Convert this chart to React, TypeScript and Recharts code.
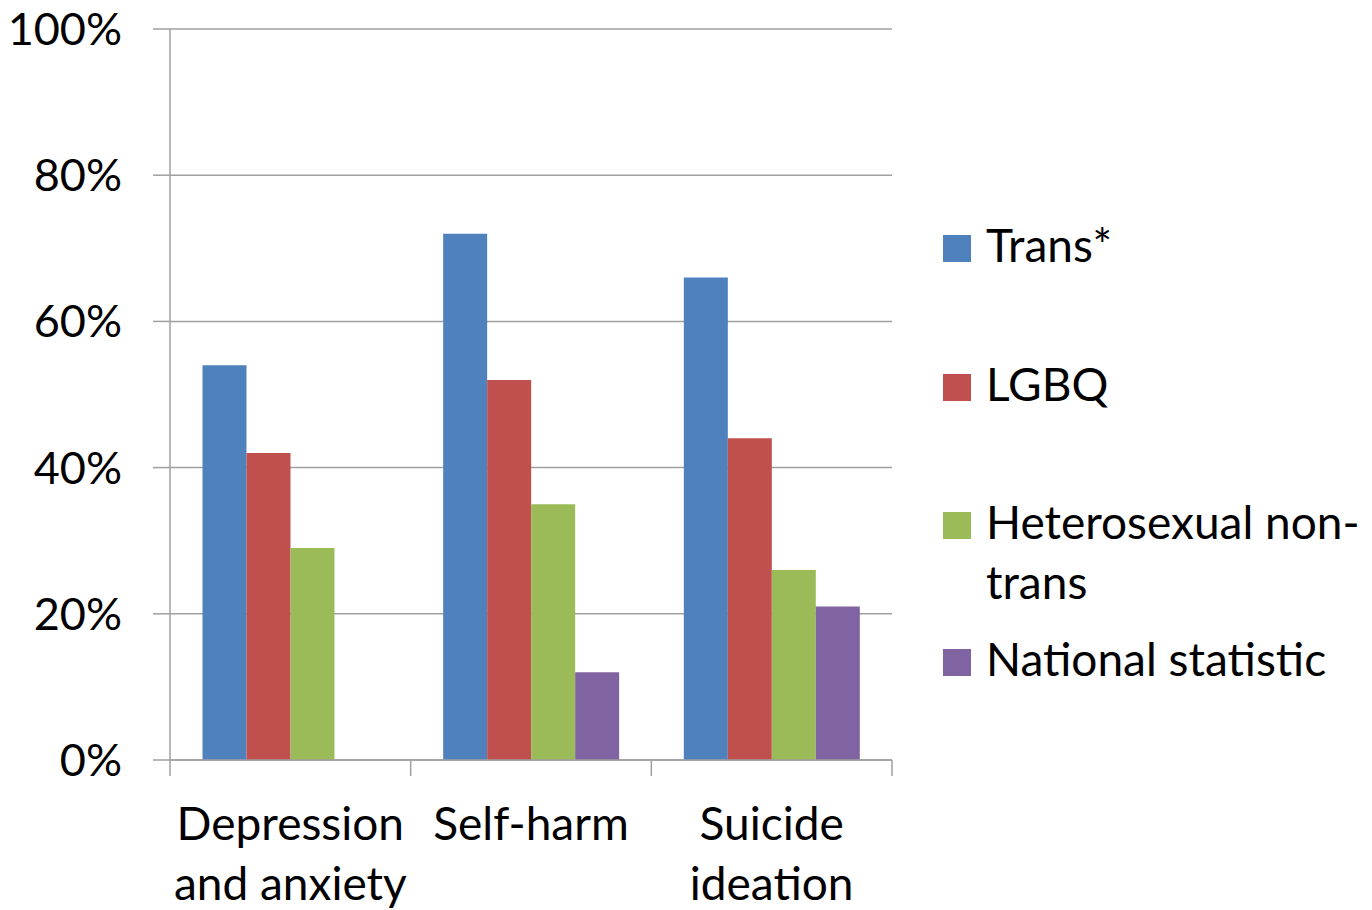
import { Bar, BarChart, CartesianGrid, Legend, XAxis, YAxis } from "recharts"

const categories = ["Depression and anxiety", "Self-harm", "Suicide ideation"]
const categoryLines = [["Depression", "and anxiety"], ["Self-harm"], ["Suicide", "ideation"]]
const trans = [54, 72, 66]
const lgbq = [42, 52, 44]
const hetero = [29, 35, 26]
const national = [null, 12, 21]
const yTicks = [0, 20, 40, 60, 80, 100]

const series = [
    { key: "trans", name: "Trans*", color: "#4F81BD" },
    { key: "lgbq", name: "LGBQ", color: "#C0504D" },
    { key: "hetero", name: "Heterosexual non-trans", color: "#9BBB59" },
    { key: "national", name: "National statistic", color: "#8064A2" },
]

const data = categories.map((name, i) => ({
    name,
    trans: trans[i],
    lgbq: lgbq[i],
    hetero: hetero[i],
    national: national[i],
}))

const FONT = "Lato, 'Open Sans', sans-serif"
const FONT_SIZE = 46
const AXIS = "#a0a0a0"
const PLOT_WIDTH = 722
const band = PLOT_WIDTH / categories.length

function CategoryTick(props: any) {
    const { x, y, index } = props
    const lines = categoryLines[index] || []
    return (
        <g>
            <line x1={x - band / 2} x2={x - band / 2} y1={y} y2={y + 16} stroke={AXIS} strokeWidth={1.5} />
            {index === categories.length - 1 && (
                <line x1={x + band / 2} x2={x + band / 2} y1={y} y2={y + 16} stroke={AXIS} strokeWidth={1.5} />
            )}
            <text x={x} y={y} textAnchor="middle" fontFamily={FONT} fontSize={FONT_SIZE} fill="#000">
                {lines.map((l, i) => (
                    <tspan key={i} x={x} dy={i === 0 ? 80 : 60}>
                        {l}
                    </tspan>
                ))}
            </text>
        </g>
    )
}

// baselines of each legend entry, in page pixels
const legendRows = [
    { lines: ["Trans*"], baseline: 263 },
    { lines: ["LGBQ"], baseline: 402 },
    { lines: ["Heterosexual non-", "trans"], baseline: 540 },
    { lines: ["National statistic"], baseline: 677 },
]

function LegendBox() {
    return (
        <div style={{ position: "relative", width: 430, height: 500, fontFamily: FONT, fontSize: FONT_SIZE }}>
            {series.map((s, i) => {
                const row = legendRows[i]
                return (
                    <div key={s.key}>
                        <div
                            style={{
                                position: "absolute",
                                left: 0,
                                top: row.baseline - 28 - 200,
                                width: 28,
                                height: 27,
                                background: s.color,
                            }}
                        />
                        {row.lines.map((l, j) => (
                            <div
                                key={j}
                                style={{
                                    position: "absolute",
                                    left: 43,
                                    top: row.baseline + j * 60 - 47 - 200,
                                    lineHeight: "58px",
                                    whiteSpace: "nowrap",
                                    color: "#000",
                                }}
                            >
                                {l}
                            </div>
                        ))}
                    </div>
                )
            })}
        </div>
    )
}

export default function App() {
    return (
        <div style={{ position: "absolute", left: 0, top: 0, width: 1372, height: 910, background: "#fff" }}>
            <BarChart
                width={1372}
                height={910}
                data={data}
                margin={{ top: 29, right: 480, bottom: 0, left: 0 }}
                barCategoryGap="13.5%"
                barGap={0}
            >
                <CartesianGrid vertical={false} stroke={AXIS} strokeWidth={1.5} />
                <XAxis
                    dataKey="name"
                    height={150}
                    tickLine={false}
                    tickSize={0}
                    tickMargin={0}
                    axisLine={{ stroke: AXIS, strokeWidth: 1.5 }}
                    tick={<CategoryTick />}
                    interval={0}
                />
                <YAxis
                    width={170}
                    domain={[0, 100]}
                    ticks={yTicks}
                    tickFormatter={(v) => `${v}%`}
                    tickSize={17}
                    tickMargin={31}
                    tickLine={{ stroke: AXIS, strokeWidth: 1.5 }}
                    axisLine={{ stroke: AXIS, strokeWidth: 1.5 }}
                    tick={{ fill: "#000", fontSize: 45, fontFamily: FONT }}
                />
                <Legend
                    layout="horizontal"
                    align="center"
                    verticalAlign="middle"
                    content={<LegendBox />}
                    wrapperStyle={{ left: 943, top: 200, width: 430, height: 500 }}
                />
                {series.map((s) => (
                    <Bar key={s.key} dataKey={s.key} name={s.name} fill={s.color} isAnimationActive={false} />
                ))}
            </BarChart>
        </div>
    )
}
